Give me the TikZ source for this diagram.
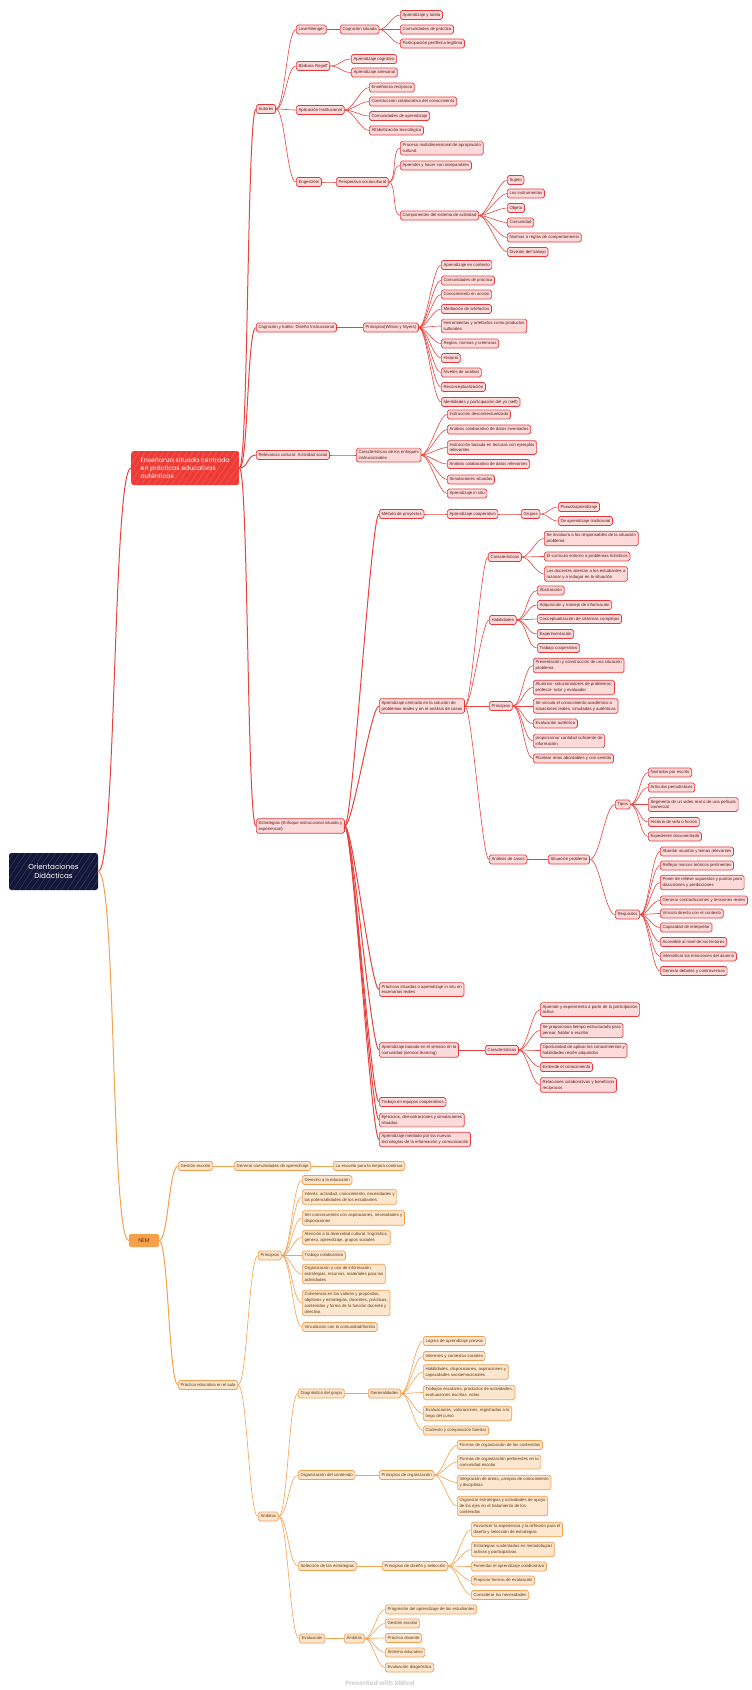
\documentclass[tikz,border=0pt]{standalone}
\usepackage{fontspec}
\setmainfont{Liberation Sans}
\newfontfamily\popp{Poppins}
\definecolor{redB}{HTML}{E6393D}
\definecolor{redF}{HTML}{FCDADA}
\definecolor{redL}{HTML}{E8443F}
\definecolor{redT}{HTML}{5E1616}
\definecolor{redM}{HTML}{EE3B35}
\definecolor{oB}{HTML}{F29D50}
\definecolor{oF}{HTML}{FDE6CE}
\definecolor{oL}{HTML}{F3A250}
\definecolor{oT}{HTML}{5E3810}
\definecolor{oM}{HTML}{F6A04A}
\definecolor{navy}{HTML}{13183A}
\newcommand{\lnk}[4]{\draw[#1] (#2.east) .. controls +(#4,0) and +(-#4,0) .. (#3.west);}
\tikzset{
  rb/.style={draw=redB, fill=redF, rounded corners=1.8pt, line width=0.7pt, text=redT,
    font=\fontsize{4.3}{5.8}\selectfont, inner xsep=2.2pt, inner ysep=2.4pt, align=left, anchor=west},
  rn/.style={rb, text height=3.2pt, text depth=1pt},
  ob/.style={draw=oB, fill=oF, rounded corners=1.8pt, line width=0.7pt, text=oT,
    font=\fontsize{4.3}{5.8}\selectfont, inner xsep=2.2pt, inner ysep=2.4pt, align=left, anchor=west},
  on/.style={ob, text height=3.2pt, text depth=1pt},
  rl/.style={draw=redL, line width=0.6pt},
  rL/.style={draw=redL, line width=1pt},
  ol/.style={draw=oL, line width=0.6pt},
  oLL/.style={draw=oL, line width=1pt},
  hatch/.style={path picture={\foreach \k in {-50,-44,...,130} \draw[white,opacity=0.2,line width=0.4pt] ([xshift=\k pt]path picture bounding box.south west) -- ++(28pt,42pt);}},
}
\begin{document}
\begin{tikzpicture}[x=1pt,y=-1pt]
\useasboundingbox (0,0) rectangle (752,1690);
\fill[white] (0,0) rectangle (752,1690);

% ---------- root and main nodes
\node[fill=navy, rounded corners=2.5pt, text=white, font=\popp\fontsize{7.2}{9}\selectfont, align=center,
  minimum width=89pt, minimum height=37pt, inner sep=2pt, hatch] (root) at (53.5,871.5) {Orientaciones\\Didácticas};
\node[fill=redM, rounded corners=2.5pt, text=white, font=\popp\fontsize{6.2}{8.3}\selectfont, align=left,
  minimum width=108pt, minimum height=34pt, inner xsep=6pt, anchor=west, hatch] (m1) at (131,468) {Enseñanza situada centrada\\en prácticas educativas\\auténticas};
\node[fill=oM, rounded corners=2pt, text=oT, font=\popp\fontsize{5.5}{6}\selectfont,
  minimum width=30pt, minimum height=13pt, inner sep=1pt] (nem) at (144,1240.5) {NEM};

% ---------- red branch level 1
\node[rn] (aut) at (256,109) {Autores};
\node[rn] (cog) at (256,327.5) {Cognición y tutela: Diseño Instruccional};
\node[rn] (rel) at (256,455) {Relevancia cultural: Actividad social};
\node[rb] (est) at (256,826) {Estrategias (Enfoque instruccional situado y\\experiencial)};

% Autores
\node[rn] (lw) at (296,29.5) {Lave/Wenger};
\node[rn] (br) at (296,66) {Bárbara Rogoff};
\node[rn] (ai) at (296,110) {Aplicación Institucional};
\node[rn] (eng) at (296,182) {Engeström};
\node[rn] (cs) at (340,29.5) {Cognición situada};
\node[rn] (a1) at (400,15) {Aprendizaje y tutela};
\node[rn] (a2) at (400,29.5) {Comunidades de práctica};
\node[rn] (a3) at (400,43.5) {Participación periférica legítima};
\node[rn] (b1) at (351,59) {Aprendizaje cognitivo};
\node[rn] (b2) at (351,72.5) {Aprendizaje artesanal};
\node[rn] (c1) at (369,87.5) {Enseñanza recíproca};
\node[rn] (c2) at (369,101.5) {Construcción colaborativa del conocimiento};
\node[rn] (c3) at (369,116) {Comunidades de aprendizaje};
\node[rn] (c4) at (369,130.5) {Alfabetización tecnológica};
\node[rn] (ps) at (336,182) {Perspectiva sociocultural};
\node[rb] (d1) at (400,148) {Proceso multidimensional de apropiación\\cultural.};
\node[rn] (d2) at (400,165.5) {Aprender y hacer son inseparables};
\node[rn] (d3) at (400,215.5) {Componentes del sistema de actividad};
\node[rn] (e1) at (507,180) {Sujeto};
\node[rn] (e2) at (507,193.5) {Los instrumentos};
\node[rn] (e3) at (507,208) {Objeto};
\node[rn] (e4) at (507,222.5) {Comunidad};
\node[rn] (e5) at (507,237.5) {Normas o reglas de comportamiento};
\node[rn] (e6) at (507,252) {División del trabajo};

% Cognicion y tutela
\node[rn] (wm) at (363,327.5) {Principios(Wilson y Myers)};
\node[rn] (f1) at (441,265) {Aprendizaje en contexto};
\node[rn] (f2) at (441,280.5) {Comunidades de práctica};
\node[rn] (f3) at (441,294.5) {Conocimiento en acción};
\node[rn] (f4) at (441,309) {Mediación de artefactos};
\node[rb] (f5) at (441,326) {Herramientas y artefactos como productos\\culturales};
\node[rn] (f6) at (441,343.5) {Reglas, normas y creencias};
\node[rn] (f7) at (441,358) {Historia};
\node[rn] (f8) at (441,372.5) {Niveles de análisis};
\node[rn] (f9) at (441,387) {Reconceptualización};
\node[rn] (f10) at (441,402) {Identidades y participación del yo (self)};

% Relevancia cultural
\node[rb] (ce) at (356,455) {Características de los enfoques\\instruccionales};
\node[rn] (g1) at (447,414.5) {Instrucción descontextualizada};
\node[rn] (g2) at (447,429.5) {Análisis colaborativo de datos inventados};
\node[rb] (g3) at (447,447.5) {Instrucción basada en lecturas con ejemplos\\relevantes};
\node[rn] (g4) at (447,464) {Análisis colaborativo de datos relevantes};
\node[rn] (g5) at (447,479.5) {Simulaciones situadas};
\node[rn] (g6) at (447,493.5) {Aprendizaje in situ};

% Estrategias
\node[rn] (mp) at (379,514) {Método de proyectos};
\node[rb] (ac) at (379,706) {Aprendizaje centrado en la solución de\\problemas reales y en el análisis de casos};
\node[rb] (pr) at (379,989.5) {Prácticas situadas o aprendizaje in situ en\\escenarios reales};
\node[rb] (asv) at (379,1050) {Aprendizaje basado en el servicio en la\\comunidad (service learning)};
\node[rn] (tc) at (379,1102) {Trabajo en equipos cooperativos};
\node[rb] (ej) at (379,1120) {Ejercicios, demostraciones y simulaciones\\situadas};
\node[rb] (am) at (379,1139.5) {Aprendizaje mediado por las nuevas\\tecnologías de la información y comunicación};

\node[rn] (apc) at (447,514) {Aprendizaje cooperativo};
\node[rn] (gr) at (521,514) {Grupos};
\node[rn] (h1) at (558,507) {Pseudoaprendizaje};
\node[rn] (h2) at (558,521) {De aprendizaje tradicional};

\node[rn] (car) at (488,557) {Características};
\node[rb] (i1) at (544,538.5) {Se involucra a los responsables de la situación\\problema};
\node[rn] (i2) at (544,556.5) {El currículo entorno a problemas holísticos};
\node[rb] (i3) at (544,574) {Los docentes alientan a los estudiantes a\\razonar y a indagar en la situación};

\node[rn] (hab) at (489,620) {Habilidades};
\node[rn] (j1) at (537,590.5) {Abstracción};
\node[rn] (j2) at (537,605) {Adquisición y manejo de información};
\node[rn] (j3) at (537,619) {Conceptualización de sistemas complejos};
\node[rn] (j4) at (537,634) {Experimentación};
\node[rn] (j5) at (537,648) {Trabajo cooperativo};

\node[rn] (pri) at (489,706) {Principios};
\node[rb] (k1) at (533,665.5) {Presentación y construcción de una situación\\problema};
\node[rb] (k2) at (533,687.5) {Alumnos- solucionadores de problemas;\\profesor- tutor y evaluador};
\node[rb] (k3) at (533,706) {Se vincula el conocimiento académico a\\situaciones reales, simuladas y auténticas};
\node[rn] (k4) at (533,723.5) {Evaluación auténtica};
\node[rb] (k5) at (533,741) {proporcionar cantidad suficiente de\\información};
\node[rn] (k6) at (533,758.5) {Plantear retos abordables y con sentido};

\node[rn] (anc) at (489,859.5) {Análisis de casos};
\node[rn] (sp) at (548,859.5) {Situación problema};
\node[rn] (tip) at (615,804.5) {Tipos};
\node[rn] (req) at (615,914.5) {Requisitos};
\node[rn] (l1) at (648,772.5) {Narrados por escrito};
\node[rn] (l2) at (648,787.5) {Artículos periodísticos};
\node[rb] (l3) at (648,804.5) {Segmento de un video real o de una película\\comercial};
\node[rn] (l4) at (648,822) {Historia de vida o ficción};
\node[rn] (l5) at (648,836.5) {Expediente documentado};
\node[rn] (n1) at (660,851.5) {Abordar asuntos y temas relevantes};
\node[rn] (n2) at (660,865.5) {Reflejar marcos teóricos pertinentes};
\node[rb] (n3) at (660,882.5) {Poner de relieve supuestos y puntos para\\discusiones y predicciones};
\node[rn] (n4) at (660,900.5) {Generar contradicciones y tensiones reales};
\node[rn] (n5) at (660,913.5) {Vínculo directo con el contexto};
\node[rn] (n6) at (660,927.5) {Capacidad de interpretar};
\node[rn] (n7) at (660,942) {Accesible al nivel de los lectores};
\node[rn] (n8) at (660,956.5) {Intensificar las emociones del alumno};
\node[rn] (n9) at (660,971) {Generar debates y controversias};

\node[rn] (sv) at (485,1050) {Características};
\node[rb] (o1) at (540,1009.5) {Aprende y experimenta a partir de la participación\\activa};
\node[rb] (o2) at (540,1030.5) {Se proporciona tiempo estructurado para\\pensar, hablar o escribir};
\node[rb] (o3) at (540,1050.5) {Oportunidad de aplicar los conocimientos y\\habilidades recién adquiridos};
\node[rn] (o4) at (540,1067) {Extiende el conocimiento};
\node[rb] (o5) at (540,1085) {Relaciones colaborativas y beneficios\\recíprocos};

% ---------- orange branch
\node[on] (ge) at (178,1166) {Gestión escolar};
\node[on] (gc) at (234,1166) {Generar comunidades de aprendizaje};
\node[on] (me) at (333,1166) {La escuela para la mejora continua};
\node[on] (pe) at (178,1385) {Práctica educativa en el aula};
\node[on] (pp) at (258,1255.5) {Principios};
\node[on] (p1) at (302,1180) {Derecho a la educación};
\node[ob] (p2) at (302,1197) {Interés, actividad, conocimiento, necesidades y\\las potencialidades de los estudiantes};
\node[ob] (p3) at (302,1218) {Ser consecuentes con aspiraciones, necesidades y\\disposiciones};
\node[ob] (p4) at (302,1237.5) {Atención a la diversidad cultural, lingüística,\\género, aprendizaje, grupos sociales};
\node[on] (p5) at (302,1255.5) {Trabajo colaborativo};
\node[ob] (p6) at (302,1274) {Organización y uso de información,\\estrategias, recursos, materiales para las\\actividades};
\node[ob] (p7) at (302,1303) {Coherencia en los valores y propósitos,\\objetivos y estrategias, docentes, prácticas,\\contenidos y forma de la función docente y\\directiva};
\node[on] (p8) at (302,1327) {Vinculación con la comunidad/familia};

\node[on] (amb) at (258,1516.5) {Ámbitos};
\node[on] (dg) at (298,1393.5) {Diagnóstico del grupo};
\node[on] (gen) at (368,1393.5) {Generalidades};
\node[on] (q1) at (423,1341) {Logros de aprendizaje previos};
\node[on] (q2) at (423,1356) {Intereses y contextos sociales};
\node[ob] (q3) at (423,1372) {Habilidades, disposiciones, aspiraciones y\\capacidades socioemocionales};
\node[ob] (q4) at (423,1392.5) {Trabajos escolares, productos de actividades,\\evaluaciones escritas, notas};
\node[ob] (q5) at (423,1413.5) {Evaluaciones, valoraciones, registradas a lo\\largo del curso};
\node[on] (q6) at (423,1430.5) {Contexto y composición familiar};

\node[on] (oc) at (298,1475) {Organización del contenido};
\node[on] (po) at (379,1475) {Principios de organización};
\node[on] (r1) at (457,1445) {Formas de organización de los contenidos};
\node[ob] (r2) at (457,1462) {Formas de organización pertinentes en la\\comunidad escolar};
\node[ob] (r3) at (457,1482.5) {Integración de áreas, campos de conocimiento\\y disciplinas};
\node[ob] (r4) at (457,1506) {Organizar estrategias y actividades de apoyo\\de los ejes en el tratamiento de los\\contenidos};

\node[on] (se) at (298,1566) {Selección de las estrategias};
\node[on] (pd) at (382,1566) {Principios de diseño y selección};
\node[ob] (s1) at (471,1529.5) {Favorecer la experiencia y la reflexión para el\\diseño y selección de estrategias};
\node[ob] (s2) at (471,1549.5) {Estrategias sustentadas en metodologías\\activas y participativas};
\node[on] (s3) at (471,1566.5) {Fomentar el aprendizaje colaborativo};
\node[on] (s4) at (471,1580.5) {Propiciar formas de evaluación};
\node[on] (s5) at (471,1595) {Considerar las necesidades};

\node[on] (ev) at (299,1638.5) {Evaluación};
\node[on] (ab) at (344,1638.5) {Ámbitos};
\node[on] (t1) at (385,1609.5) {Progresión del aprendizaje de los estudiantes};
\node[on] (t2) at (385,1623.5) {Gestión escolar};
\node[on] (t3) at (385,1638) {Práctica docente};
\node[on] (t4) at (385,1652.5) {Sistema educativo};
\node[on] (t5) at (385,1667.5) {Evaluación diagnóstica};

\node[font=\popp\bfseries\fontsize{6.2}{7}\selectfont, text=black!18] (ft) at (380,1683.5) {Presented with XMind};

% ---------- connectors
\draw[rL] (root.east) .. controls +(18,0) and +(-18,0) .. (m1.west);
\draw[oLL] (root.east) .. controls +(18,0) and +(-18,0) .. (nem.west);
\foreach \c in {aut,cog,rel,est} {\lnk{rL}{m1}{\c}{9}}
\foreach \c in {lw,br,ai,eng} {\lnk{rl}{aut}{\c}{9}}
\lnk{rl}{lw}{cs}{9}
\foreach \c in {a1,a2,a3} {\lnk{rl}{cs}{\c}{8}}
\foreach \c in {b1,b2} {\lnk{rl}{br}{\c}{10}}
\foreach \c in {c1,c2,c3,c4} {\lnk{rl}{ai}{\c}{8}}
\lnk{rl}{eng}{ps}{9}
\foreach \c in {d1,d2,d3} {\lnk{rl}{ps}{\c}{8}}
\foreach \c in {e1,e2,e3,e4,e5,e6} {\lnk{rl}{d3}{\c}{8}}
\lnk{rl}{cog}{wm}{9}
\foreach \c in {f1,f2,f3,f4,f5,f6,f7,f8,f9,f10} {\lnk{rl}{wm}{\c}{8}}
\lnk{rl}{rel}{ce}{9}
\foreach \c in {g1,g2,g3,g4,g5,g6} {\lnk{rl}{ce}{\c}{8}}
\foreach \c in {mp,ac,pr,asv,tc,ej,am} {\lnk{rL}{est}{\c}{8}}
\lnk{rl}{mp}{apc}{9}
\lnk{rl}{apc}{gr}{9}
\foreach \c in {h1,h2} {\lnk{rl}{gr}{\c}{8}}
\foreach \c in {car,hab,pri,anc} {\lnk{rl}{ac}{\c}{7}}
\foreach \c in {i1,i2,i3} {\lnk{rl}{car}{\c}{8}}
\foreach \c in {j1,j2,j3,j4,j5} {\lnk{rl}{hab}{\c}{10}}
\foreach \c in {k1,k2,k3,k4,k5,k6} {\lnk{rl}{pri}{\c}{9}}
\lnk{rl}{anc}{sp}{9}
\foreach \c in {tip,req} {\lnk{rl}{sp}{\c}{10}}
\foreach \c in {l1,l2,l3,l4,l5} {\lnk{rl}{tip}{\c}{8}}
\foreach \c in {n1,n2,n3,n4,n5,n6,n7,n8,n9} {\lnk{rl}{req}{\c}{8}}
\lnk{rl}{asv}{sv}{9}
\foreach \c in {o1,o2,o3,o4,o5} {\lnk{rl}{sv}{\c}{8}}
\foreach \c in {ge,pe} {\lnk{oLL}{nem}{\c}{9}}
\lnk{ol}{ge}{gc}{9}
\lnk{ol}{gc}{me}{9}
\foreach \c in {pp,amb} {\lnk{ol}{pe}{\c}{9}}
\foreach \c in {p1,p2,p3,p4,p5,p6,p7,p8} {\lnk{ol}{pp}{\c}{9}}
\foreach \c in {dg,oc,se,ev} {\lnk{ol}{amb}{\c}{9}}
\lnk{ol}{dg}{gen}{9}
\foreach \c in {q1,q2,q3,q4,q5,q6} {\lnk{ol}{gen}{\c}{8}}
\lnk{ol}{oc}{po}{9}
\foreach \c in {r1,r2,r3,r4} {\lnk{ol}{po}{\c}{8}}
\lnk{ol}{se}{pd}{9}
\foreach \c in {s1,s2,s3,s4,s5} {\lnk{ol}{pd}{\c}{8}}
\lnk{ol}{ev}{ab}{8}
\foreach \c in {t1,t2,t3,t4,t5} {\lnk{ol}{ab}{\c}{8}}
\end{tikzpicture}
\end{document}
